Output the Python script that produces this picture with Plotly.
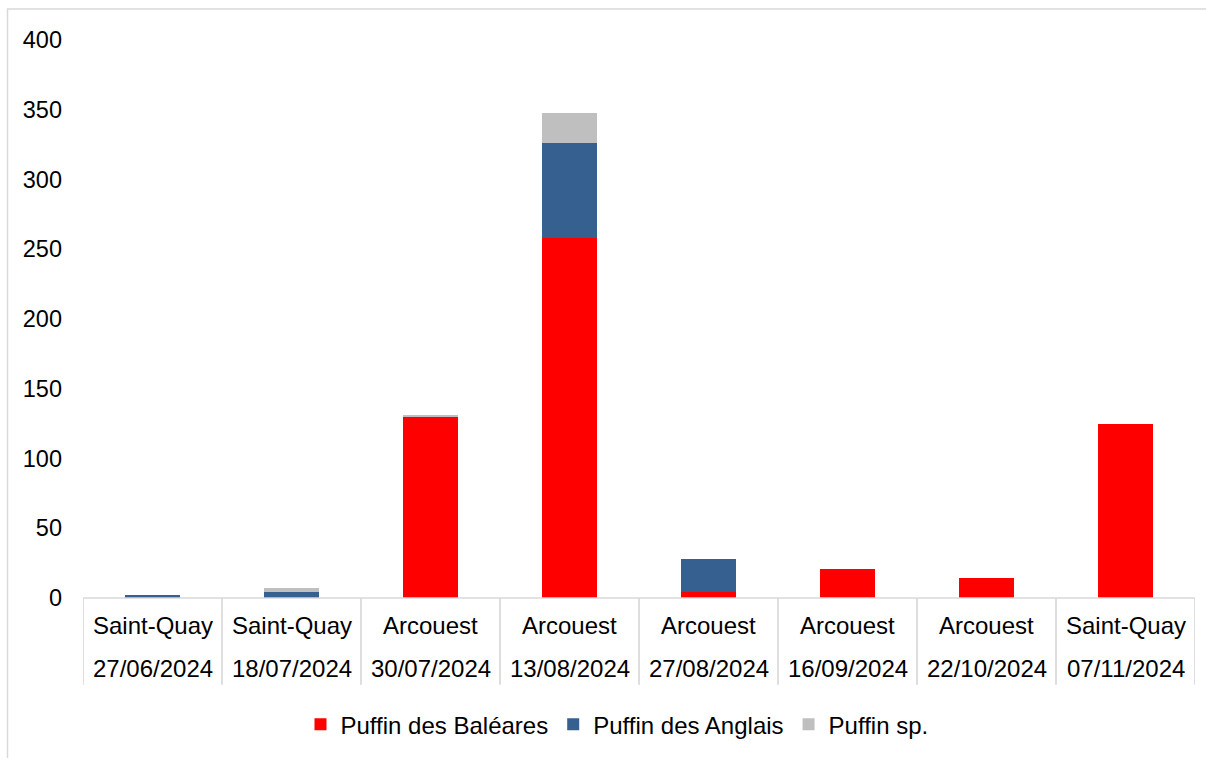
import plotly.graph_objects as go

# Sorties d'observation : site et date de chaque comptage
sites = ["Saint-Quay", "Saint-Quay", "Arcouest", "Arcouest", "Arcouest",
         "Arcouest", "Arcouest", "Saint-Quay"]
dates = ["27/06/2024", "18/07/2024", "30/07/2024", "13/08/2024", "27/08/2024",
         "16/09/2024", "22/10/2024", "07/11/2024"]

# Effectifs par espèce
baleares = [1, 1, 130, 258, 4, 21, 14, 125]
anglais = [1, 3, 0, 68, 24, 0, 0, 0]
sp = [0, 3, 1, 22, 0, 0, 0, 0]

y_ticks = [0, 50, 100, 150, 200, 250, 300, 350, 400]

FONT = "Liberation Sans, Arial, sans-serif"
GRID = "#d9d9d9"
FS = 24

W, H = 1206, 758
ML, MR, MT, MB = 83, 11, 40, 158
PW, PH = W - ML - MR, H - MT - MB

def px_x(p):
    return (p - ML) / PW

def px_y(p):
    return (H - MB - p) / PH

x = list(range(len(sites)))

fig = go.Figure()
for name, vals, color in [
    ("Puffin des Baléares", baleares, "#ff0000"),
    ("Puffin des Anglais", anglais, "#35608f"),
    ("Puffin sp.", sp, "#bfbfbf"),
]:
    fig.add_trace(go.Bar(x=x, y=vals, name=name, marker_color=color,
                         marker_line_width=0, hoverinfo="y+name"))

shapes = []
# axe des catégories
shapes.append(dict(type="line", xref="x", yref="paper", x0=-0.5, x1=7.5,
                   y0=0, y1=0, line=dict(color=GRID, width=1.7)))
# séparateurs entre catégories
for i in range(len(sites) + 1):
    shapes.append(dict(type="line", xref="x", yref="paper", x0=i - 0.5, x1=i - 0.5,
                       y0=0, y1=px_y(687), line=dict(color=GRID, width=1.7)))
# cadre du graphique
shapes.append(dict(type="rect", xref="paper", yref="paper",
                   x0=px_x(7.5), x1=px_x(1215), y0=px_y(770), y1=px_y(9),
                   line=dict(color=GRID, width=1.5), fillcolor="rgba(0,0,0,0)",
                   layer="below"))

annotations = []
for i, (s, d) in enumerate(zip(sites, dates)):
    annotations.append(dict(x=i, y=px_y(628), xref="x", yref="paper", text=s,
                            showarrow=False, font=dict(size=FS, color="#000000", family=FONT),
                            yanchor="middle"))
    annotations.append(dict(x=i, y=px_y(671), xref="x", yref="paper", text=d,
                            showarrow=False, font=dict(size=FS, color="#000000", family=FONT),
                            yanchor="middle"))

fig.update_layout(
    width=W, height=H,
    margin=dict(l=ML, r=MR, t=MT, b=MB),
    barmode="stack",
    bargap=0.6,
    plot_bgcolor="white",
    paper_bgcolor="white",
    font=dict(family=FONT, size=FS, color="#000000"),
    xaxis=dict(range=[-0.5, 7.5], showticklabels=False, showgrid=False,
               zeroline=False, showline=False, ticks=""),
    yaxis=dict(range=[0, 400], tickvals=y_ticks, showgrid=False, zeroline=False,
               showline=False, ticks="", ticklabelstandoff=20,
               tickfont=dict(size=FS - 0.5, color="#000000", family=FONT)),
    legend=dict(orientation="h", x=px_x(617), xanchor="center", y=px_y(727),
                yanchor="middle", font=dict(size=FS, color="#000000", family=FONT),
                itemwidth=30, traceorder="normal", tracegroupgap=0),
    shapes=shapes,
    annotations=annotations,
)

fig.write_html("out.html")
